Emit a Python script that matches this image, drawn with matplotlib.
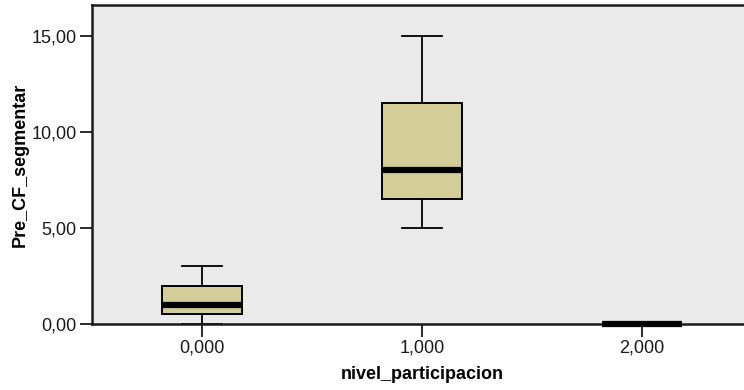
import matplotlib
matplotlib.use("Agg")
import matplotlib.pyplot as plt

plt.rcParams['font.family'] = ['Liberation Sans', 'DejaVu Sans']

# box plot summary per group
groups = ['0,000', '1,000', '2,000']
whislo = [0.0, 5.0, 0.0]
q1 = [0.5, 6.5, 0.0]
med = [1.0, 8.0, 0.0]
q3 = [2.0, 11.5, 0.0]
whishi = [3.0, 15.0, 0.0]

yticks = [0, 5, 10, 15]
ytick_labels = ['0,00', '5,00', '10,00', '15,00']

stats = []
for i, g in enumerate(groups):
    stats.append({'label': g, 'whislo': whislo[i], 'q1': q1[i], 'med': med[i],
                  'q3': q3[i], 'whishi': whishi[i], 'fliers': []})

fig = plt.figure(figsize=(7.44, 3.90), dpi=100)
ax = fig.add_axes([92/744, 66/390, 660/744, 319/390])
ax.set_facecolor('#EAEAEA')

bp = ax.bxp(stats, positions=[0, 1, 2], widths=0.364, patch_artist=True, showfliers=False,
            boxprops=dict(facecolor='#D3CE98', edgecolor='black', linewidth=1.4),
            medianprops=dict(color='black', linewidth=4.5, solid_capstyle='butt'),
            whiskerprops=dict(color='black', linewidth=1.3),
            capprops=dict(color='black', linewidth=1.3),
            capwidths=0.18)
for m in bp['medians']:
    m.set_clip_on(False)
    m.set_zorder(5)

ax.set_xlim(-0.5, 2.5)
ax.set_ylim(0, 16.6)
ax.set_yticks(yticks)
ax.set_yticklabels(ytick_labels)
ax.set_xticks([0, 1, 2])
ax.set_xticklabels(groups)

for s in ax.spines.values():
    s.set_linewidth(1.8)
    s.set_color('#1a1a1a')

ax.tick_params(axis='both', direction='out', length=9, width=1.3, labelsize=13,
               color='#1a1a1a', labelcolor='#1a1a1a', pad=2)

ax.set_xlabel('nivel_participacion', fontsize=13, fontweight='bold', labelpad=7)
ax.set_ylabel('Pre_CF_segmentar', fontsize=13, fontweight='bold', labelpad=2)

fig.savefig('out.png', dpi=100)
